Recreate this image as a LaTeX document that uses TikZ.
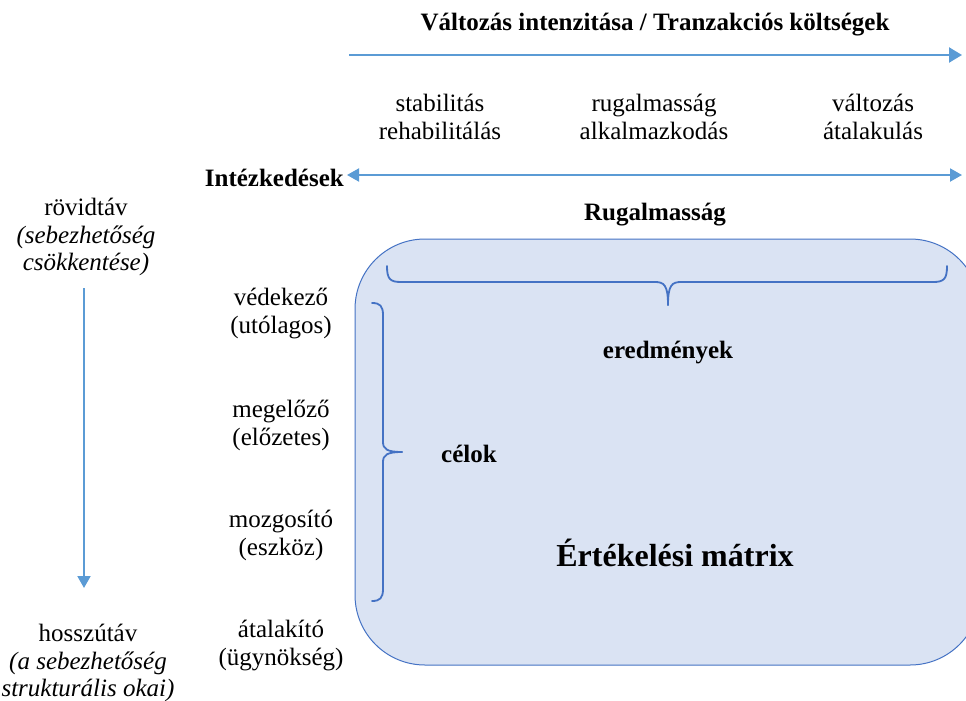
\documentclass[tikz,border=0pt]{standalone}
\usepackage{fontspec}
\setmainfont{Liberation Serif}
\usetikzlibrary{arrows.meta}
\definecolor{arrowblue}{HTML}{5B9BD5}
\definecolor{boxfill}{HTML}{DAE3F3}
\definecolor{boxline}{HTML}{4472C4}
\begin{document}
\begin{tikzpicture}[x=1pt,y=-1pt,
  txt/.style={align=center,inner sep=0pt,font=\fontsize{25}{28}\selectfont},
  btxt/.style={txt,font=\fontsize{25}{28}\selectfont\bfseries},
  axis/.style={arrowblue,line width=2.2pt,-{Triangle[length=13pt,width=15pt]}},
  twoway/.style={arrowblue,line width=2pt,{Triangle[length=12pt,width=13pt]}-{Triangle[length=12pt,width=13pt]}},
  bracestyle/.style={boxline,line width=1.8pt,line cap=round}]
\useasboundingbox (0,0) rectangle (966,701);

% evaluation matrix panel
\begin{scope}
  \clip (0,0) rectangle (966,701);
  \draw[boxline,line width=1pt,fill=boxfill,rounded corners=70pt] (355,239) rectangle (980,665);
\end{scope}

% top axis
\node[btxt] (title) at (655,25) {Változás intenzitása / Tranzakciós költségek};
\coordinate (topL) at (349,55);
\coordinate (topR) at (962,55);
\draw[axis] (topL) -- (topR);

% column headings
\node[txt] (c1) at (440,117) {stabilitás\\rehabilitálás};
\node[txt] (c2) at (654,117) {rugalmasság\\alkalmazkodás};
\node[txt] (c3) at (873,117) {változás\\átalakulás};

% measures axis
\node[btxt,anchor=east] (meas) at (344,178) {Intézkedések};
\coordinate (measR) at (962,175);
\path (meas.east |- measR) ++(3,0) coordinate (measL);
\draw[twoway] (measL) -- (measR);

\node[btxt] (rug) at (655,215) {Rugalmasság};

% row headings
\node[txt] (r1) at (281,314) {védekező\\(utólagos)};
\node[txt] (r2) at (281,425) {megelőző\\(előzetes)};
\node[txt] (r3) at (281,535) {mozgosító\\(eszköz)};
\node[txt] (r4) at (281,645) {átalakító\\(ügynökség)};

% time horizon
\node[txt,font=\fontsize{25}{27.5}\selectfont] (short) at (86,237) {rövidtáv\\\textit{(sebezhetőség}\\\textit{csökkentése)}};
\node[txt,font=\fontsize{25}{27.5}\selectfont] (long) at (88,663) {hosszútáv\\\textit{(a sebezhetőség}\\\textit{strukturális okai)}};
\coordinate (timeT) at (84,288);
\coordinate (timeB) at (84,588);
\draw[axis,line width=2pt,-{Triangle[length=12pt,width=13pt]}] (timeT) -- (timeB);

% braces
\draw[bracestyle] (387,266) .. controls (387,279) and (390,282) .. (401,282) -- (655,282) .. controls (664,282) and (668,285) .. (668,305);
\draw[bracestyle] (947,266) .. controls (947,279) and (944,282) .. (933,282) -- (681,282) .. controls (672,282) and (668,285) .. (668,305);
\draw[bracestyle] (372,303) .. controls (380,303) and (383,306) .. (383,315) -- (383,442) .. controls (383,449) and (387,452) .. (402,452);
\draw[bracestyle] (372,601) .. controls (380,601) and (383,598) .. (383,589) -- (383,462) .. controls (383,455) and (387,452) .. (402,452);

% panel labels
\node[btxt] (res) at (668,353) {eredmények};
\node[btxt] (goal) at (469,454) {célok};
\node[btxt,font=\fontsize{32}{36}\selectfont\bfseries] (mat) at (675,553) {Értékelési mátrix};
\end{tikzpicture}
\end{document}
